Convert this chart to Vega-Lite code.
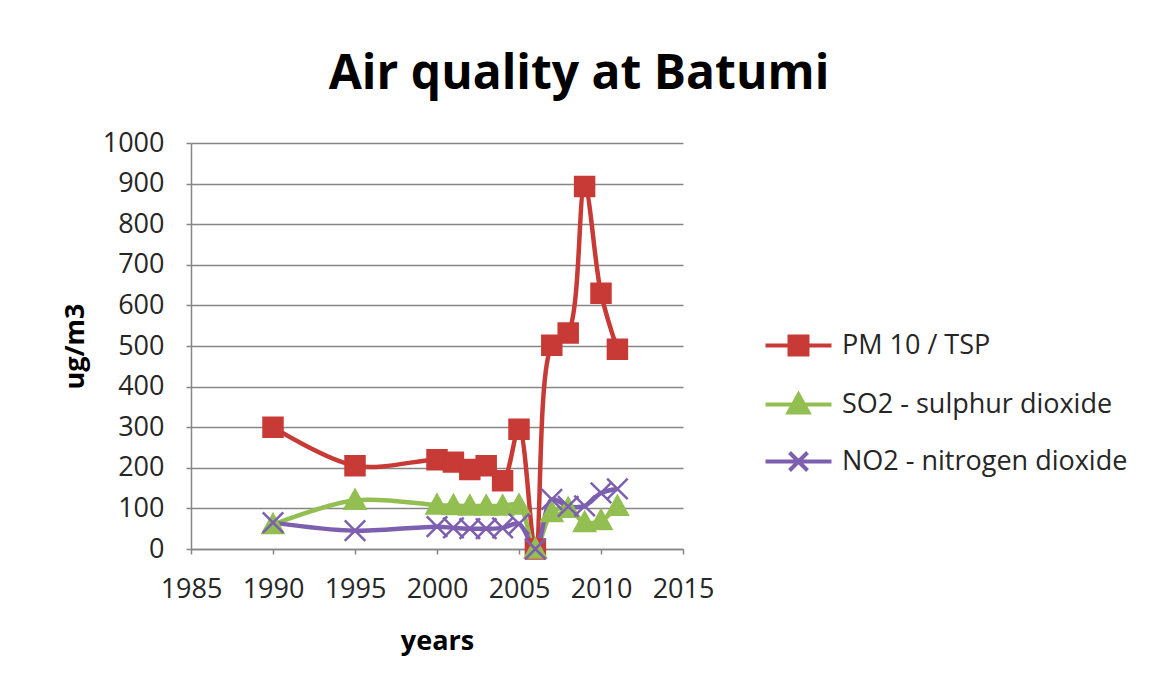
{
  "$schema": "https://vega.github.io/schema/vega-lite/v6.json",
  "width": 492,
  "height": 406,
  "autosize": {"type": "none"},
  "padding": {"left": 191, "top": 143, "right": 476, "bottom": 144},
  "background": "white",
  "title": {
    "text": "Air quality at Batumi",
    "anchor": "middle",
    "frame": "group",
    "dx": 142,
    "offset": -8,
    "baseline": "alphabetic",
    "font": "Open Sans",
    "fontSize": 48,
    "fontWeight": "bold",
    "color": "#000000"
  },
  "config": {
    "view": {"stroke": null},
    "font": "Open Sans",
    "axis": {
      "labelFont": "Open Sans",
      "labelFontSize": 27,
      "labelColor": "#262626",
      "titleFont": "Open Sans",
      "titleFontSize": 27,
      "titleFontWeight": "bold",
      "titleColor": "#000000",
      "domainColor": "#868686",
      "domainWidth": 1.5,
      "tickColor": "#868686",
      "tickWidth": 1.5,
      "tickSize": 5,
      "gridColor": "#868686",
      "gridWidth": 1.5
    }
  },
  "data": {
    "values": [
      {"year": 1990, "series": "PM 10 / TSP", "value": 300},
      {"year": 1995, "series": "PM 10 / TSP", "value": 205},
      {"year": 2000, "series": "PM 10 / TSP", "value": 220},
      {"year": 2001, "series": "PM 10 / TSP", "value": 214},
      {"year": 2002, "series": "PM 10 / TSP", "value": 196},
      {"year": 2003, "series": "PM 10 / TSP", "value": 205},
      {"year": 2004, "series": "PM 10 / TSP", "value": 168},
      {"year": 2005, "series": "PM 10 / TSP", "value": 295},
      {"year": 2006, "series": "PM 10 / TSP", "value": 0},
      {"year": 2007, "series": "PM 10 / TSP", "value": 502},
      {"year": 2008, "series": "PM 10 / TSP", "value": 532},
      {"year": 2009, "series": "PM 10 / TSP", "value": 893},
      {"year": 2010, "series": "PM 10 / TSP", "value": 630},
      {"year": 2011, "series": "PM 10 / TSP", "value": 492},
      {"year": 1990, "series": "SO2 - sulphur dioxide", "value": 60},
      {"year": 1995, "series": "SO2 - sulphur dioxide", "value": 120},
      {"year": 2000, "series": "SO2 - sulphur dioxide", "value": 108},
      {"year": 2001, "series": "SO2 - sulphur dioxide", "value": 107},
      {"year": 2002, "series": "SO2 - sulphur dioxide", "value": 106},
      {"year": 2003, "series": "SO2 - sulphur dioxide", "value": 106},
      {"year": 2004, "series": "SO2 - sulphur dioxide", "value": 106},
      {"year": 2005, "series": "SO2 - sulphur dioxide", "value": 108},
      {"year": 2006, "series": "SO2 - sulphur dioxide", "value": 0},
      {"year": 2007, "series": "SO2 - sulphur dioxide", "value": 90},
      {"year": 2008, "series": "SO2 - sulphur dioxide", "value": 100},
      {"year": 2009, "series": "SO2 - sulphur dioxide", "value": 65},
      {"year": 2010, "series": "SO2 - sulphur dioxide", "value": 70},
      {"year": 2011, "series": "SO2 - sulphur dioxide", "value": 105},
      {"year": 1990, "series": "NO2 - nitrogen dioxide", "value": 65},
      {"year": 1995, "series": "NO2 - nitrogen dioxide", "value": 45},
      {"year": 2000, "series": "NO2 - nitrogen dioxide", "value": 55},
      {"year": 2001, "series": "NO2 - nitrogen dioxide", "value": 52},
      {"year": 2002, "series": "NO2 - nitrogen dioxide", "value": 50},
      {"year": 2003, "series": "NO2 - nitrogen dioxide", "value": 50},
      {"year": 2004, "series": "NO2 - nitrogen dioxide", "value": 52},
      {"year": 2005, "series": "NO2 - nitrogen dioxide", "value": 62},
      {"year": 2006, "series": "NO2 - nitrogen dioxide", "value": 0},
      {"year": 2007, "series": "NO2 - nitrogen dioxide", "value": 122},
      {"year": 2008, "series": "NO2 - nitrogen dioxide", "value": 105},
      {"year": 2009, "series": "NO2 - nitrogen dioxide", "value": 106},
      {"year": 2010, "series": "NO2 - nitrogen dioxide", "value": 138},
      {"year": 2011, "series": "NO2 - nitrogen dioxide", "value": 148}
    ]
  },
  "encoding": {
    "x": {
      "field": "year",
      "type": "quantitative",
      "scale": {"domain": [1985, 2015], "nice": false, "zero": false},
      "axis": {
        "title": "years",
        "values": [1985, 1990, 1995, 2000, 2005, 2010, 2015],
        "format": "d",
        "grid": false,
        "labelPadding": 22,
        "titlePadding": 26,
        "labelFlush": false
      }
    },
    "y": {
      "field": "value",
      "type": "quantitative",
      "scale": {"domain": [0, 1000], "nice": false},
      "axis": {
        "title": "ug/m3",
        "values": [0, 100, 200, 300, 400, 500, 600, 700, 800, 900, 1000],
        "format": "d",
        "grid": true,
        "labelPadding": 22,
        "titlePadding": 13
      }
    },
    "color": {
      "field": "series",
      "type": "nominal",
      "sort": ["PM 10 / TSP", "SO2 - sulphur dioxide", "NO2 - nitrogen dioxide"],
      "scale": {
        "domain": ["PM 10 / TSP", "SO2 - sulphur dioxide", "NO2 - nitrogen dioxide"],
        "range": ["#C83A36", "#93BF52", "#7D5FB0"]
      },
      "legend": {
        "title": null,
        "orient": "none",
        "legendX": 594,
        "legendY": 189,
        "padding": 0,
        "symbolSize": 400,
        "symbolStrokeWidth": 4,
        "symbolOpacity": 1,
        "labelFont": "Open Sans",
        "labelFontSize": 27,
        "labelColor": "#262626",
        "labelLimit": 400,
        "labelOffset": 30,
        "rowPadding": 23
      }
    }
  },
  "layer": [
    {
      "mark": {"type": "line", "strokeWidth": 4.5, "interpolate": "catmull-rom"}
    },
    {
      "mark": {"type": "point", "filled": true, "size": 400, "opacity": 0},
      "encoding": {
        "shape": {
          "field": "series",
          "type": "nominal",
          "scale": {
            "domain": ["PM 10 / TSP", "SO2 - sulphur dioxide", "NO2 - nitrogen dioxide"],
            "range": [
              "M-3.3,0H3.3M-0.9,-0.9H0.9V0.9H-0.9Z",
              "M-3.3,0H3.3M0,-1L1,0.8H-1Z",
              "M-3.3,0H3.3M-0.9,-0.9L0.9,0.9M-0.9,0.9L0.9,-0.9"
            ]
          }
        }
      }
    },
    {
      "transform": [{"filter": "datum.series === 'PM 10 / TSP'"}],
      "mark": {"type": "point", "filled": true, "size": 420, "opacity": 1, "stroke": "#C83A36", "strokeWidth": 2, "shape": "M-0.95,-0.95H0.95V0.95H-0.95Z"}
    },
    {
      "transform": [{"filter": "datum.series === 'SO2 - sulphur dioxide'"}],
      "mark": {"type": "point", "filled": true, "size": 420, "opacity": 1, "stroke": "#93BF52", "strokeWidth": 2, "shape": "M0,-1.05L1.05,0.85H-1.05Z"}
    },
    {
      "transform": [{"filter": "datum.series === 'NO2 - nitrogen dioxide'"}],
      "mark": {"type": "point", "filled": true, "size": 420, "opacity": 1, "stroke": "#7D5FB0", "strokeWidth": 2.5, "shape": "M-1,-1L1,1M-1,1L1,-1"}
    }
  ]
}
